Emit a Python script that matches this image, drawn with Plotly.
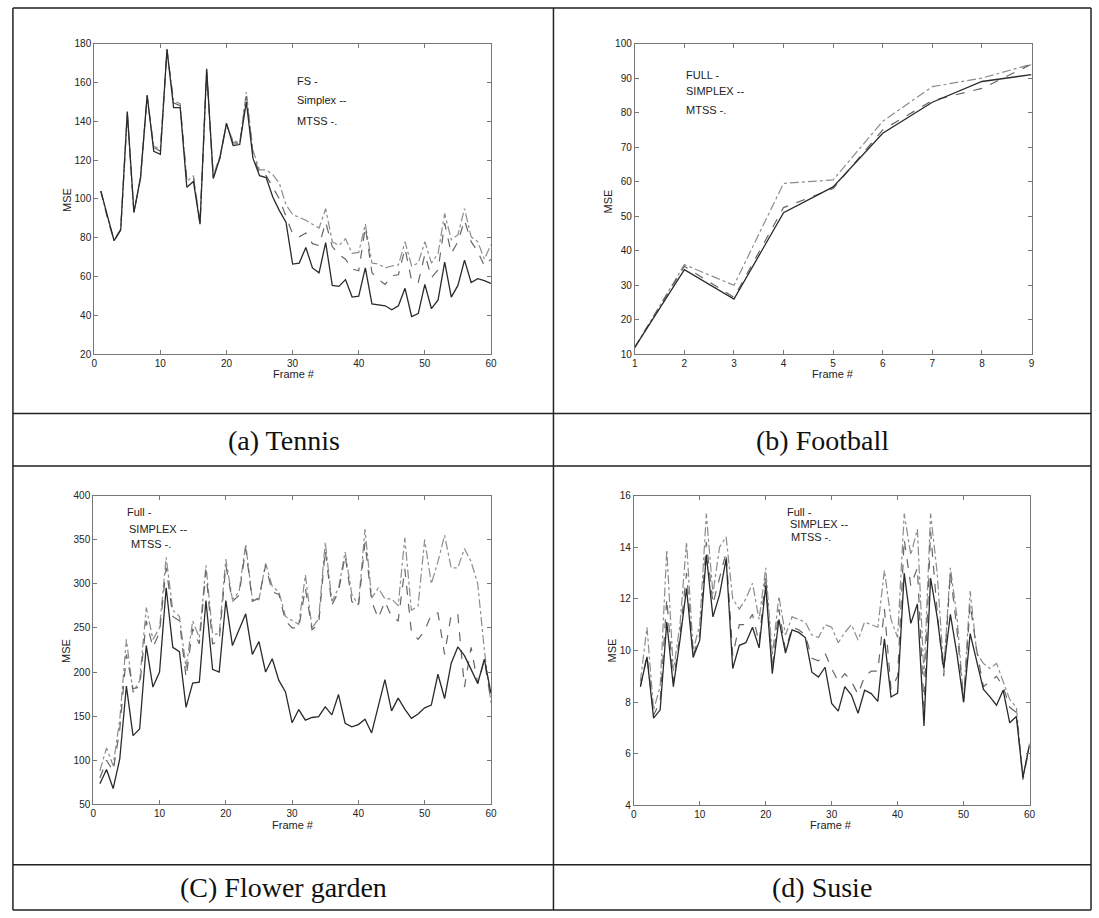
import plotly.graph_objects as go

W, H = 1099, 918

# ---------------- data ----------------
frames60 = list(range(1, 61))
frames9 = list(range(1, 10))

tennis_fs = [104, 91, 78.5, 84, 145, 93, 111, 153.5, 124.5, 123,
             177, 147, 147, 106, 109, 87, 167, 110.5, 121, 139,
             127.5, 128, 150, 121, 112, 111, 101, 94, 88, 66.5,
             67, 75, 64.5, 62, 77.5, 55.5, 55, 58.5, 49.5, 50,
             64.5, 46, 45.5, 45, 43, 45, 54, 39.5, 41, 56,
             43.5, 48, 67.5, 49.5, 55.5, 68.5, 57, 59, 58, 56.5]
tennis_simplex = [104, 90, 78.5, 84, 144, 93, 111, 153, 126.5, 124.5,
                  177, 149.5, 148, 110, 111, 87, 166, 111, 121, 138.5,
                  129, 128.5, 153, 123, 113, 112, 106, 100, 91, 82,
                  80.5, 82.5, 77, 76, 88, 75.5, 71.5, 69, 64, 63,
                  85.5, 62, 58.5, 56, 60.5, 61, 74.5, 58, 57, 71.5,
                  59.5, 63.5, 87.5, 72, 78, 89, 78, 73, 65.5, 69]
tennis_mtss = [104, 90.5, 79, 84.5, 143, 93.5, 110.5, 152, 127, 126,
               176, 150.5, 149, 109, 112, 88, 165, 112, 122, 138,
               130, 129, 155, 125, 115, 115, 112.5, 108, 97, 92,
               90.5, 89, 87, 85, 95, 78, 76, 79.5, 72, 72.5,
               87, 67, 66.5, 64.5, 65.5, 66, 78, 65.5, 67, 78,
               67, 72, 92.5, 79, 81.5, 95, 80.5, 78, 69, 76.5]

football_full = [12, 34.5, 26, 51, 58.5, 74, 83, 89, 91]
football_simplex = [12, 35.5, 26.5, 52.5, 58, 75, 83.5, 87, 94]
football_mtss = [12, 36, 30, 59.5, 60.5, 77.5, 87.5, 90, 94]

flower_full = [73.5, 89.5, 68, 101.5, 184, 128, 135.5, 230, 183, 200,
               295.5, 228, 223, 160, 187.5, 188.5, 281, 203, 200, 281,
               230, 248.5, 266, 220, 234.5, 200, 215, 190.5, 177.5, 142.5,
               157.5, 145.5, 148.5, 149.5, 160.5, 151.5, 174.5, 142, 138, 140.5,
               146.5, 131, 161.5, 191.5, 156, 170.5, 158, 147.5, 152.5, 159.5,
               162.5, 197.5, 170, 210, 228.5, 218.5, 203, 187, 214.5, 176]
flower_simplex = [80, 100, 88, 135, 220, 181, 183, 258, 228, 245,
                  318, 263, 258, 194, 249, 232, 314, 232, 235, 321,
                  280, 287, 340, 280, 284, 321, 291, 288, 258, 250,
                  250, 295, 248, 254, 338, 276, 291, 332, 280, 274,
                  347, 280, 261, 280, 263, 258, 317, 245, 237, 247,
                  265, 267, 220, 265, 265, 183, 228, 187, 213, 168]
flower_mtss = [88, 114, 94, 146, 237, 177, 190, 273, 237, 250,
               330, 270, 263, 205, 258, 239, 321, 243, 243, 328,
               282, 291, 345, 282, 282, 323, 297, 291, 263, 258,
               254, 310, 250, 260, 347, 280, 295, 336, 288, 276,
               362, 284, 295, 283, 283, 275, 352, 270, 275, 350,
               300, 325, 355, 318, 318, 340, 325, 300, 225, 165]

susie_full = [8.6, 9.75, 7.38, 7.7, 11.1, 8.6, 10.4, 12.4, 9.73, 10.4,
              13.7, 11.3, 12.15, 13.55, 9.3, 10.2, 10.3, 10.9, 10.1, 12.5,
              9.1, 11.2, 9.9, 10.8, 10.7, 10.5, 9.16, 8.97, 9.35, 7.95,
              7.65, 8.6, 8.27, 7.57, 8.46, 8.33, 8.03, 10.45, 8.2, 8.35,
              13.0, 11.05, 11.8, 7.08, 12.8, 11.3, 9.3, 11.4, 9.86, 8.0,
              10.65, 9.6, 8.5, 8.2, 7.88, 8.46, 7.2, 7.44, 5.08, 6.35]
susie_simplex = [8.6, 9.8, 7.5, 8.0, 12.0, 8.8, 10.6, 13.0, 9.8, 10.6,
                 14.2, 11.8, 12.8, 13.8, 9.8, 11.0, 11.0, 11.4, 10.3, 12.9,
                 9.3, 11.6, 10.0, 10.9, 10.8, 10.6, 9.7, 9.6, 9.9, 9.3,
                 8.8, 9.1, 8.8, 8.3, 9.0, 9.2, 9.2, 11.6, 8.5, 9.0,
                 14.3, 12.5, 13.2, 7.8, 14.6, 11.5, 9.0, 13.0, 10.8, 8.0,
                 11.8, 10.0, 8.6, 8.8, 9.0, 8.6, 7.8, 7.6, 5.0, 6.3]
susie_mtss = [8.8, 10.9, 7.7, 8.6, 13.9, 9.2, 11.0, 14.2, 10.0, 11.0,
              15.3, 12.2, 14.0, 14.4, 12.0, 11.6, 12.0, 12.6, 11.2, 13.2,
              9.8, 12.1, 10.6, 11.3, 11.2, 11.1, 10.6, 10.5, 11.0, 10.9,
              10.3, 10.7, 11.0, 10.4, 11.1, 11.0, 10.9, 13.1, 11.2, 10.5,
              15.3, 13.7, 14.7, 9.0, 15.3, 13.0, 9.2, 13.2, 11.3, 8.1,
              12.3, 9.9, 9.5, 9.3, 9.5, 8.8, 8.1, 7.8, 5.1, 6.4]

captions = ["(a) Tennis", "(b) Football", "(C) Flower garden", "(d) Susie"]
legend_a = ["FS -", "Simplex --", "MTSS -."]
legend_b = ["FULL -", "SIMPLEX --", "MTSS -."]
legend_c = ["Full -", "SIMPLEX --", "MTSS -."]
legend_d = ["Full -", "SIMPLEX --", "MTSS -."]

# ---------------- layout helpers ----------------
def px_x(p):
    return p / W

def px_y(p):
    return 1 - p / H

# plot areas in pixels (left, right, top, bottom)
areas = {
    1: (92, 492, 38, 353),
    2: (637, 1037, 38, 353),
    3: (91, 492, 496, 809),
    4: (636, 1035, 496, 810),
}

fig = go.Figure()

SOLID = dict(color="#2a2a2a", width=1.3, dash="solid")
DASH = dict(color="#666666", width=1.2, dash="dash")
DOT = dict(color="#8c8c8c", width=1.2, dash="dashdot")

panels = [
    (1, frames60, tennis_fs, tennis_simplex, tennis_mtss),
    (2, frames9, football_full, football_simplex, football_mtss),
    (3, frames60, flower_full, flower_simplex, flower_mtss),
    (4, frames60, susie_full, susie_simplex, susie_mtss),
]
for i, xs, s1, s2, s3 in panels:
    xa = "x" if i == 1 else f"x{i}"
    ya = "y" if i == 1 else f"y{i}"
    for ys, ln in ((s3, DOT), (s2, DASH), (s1, SOLID)):
        fig.add_trace(go.Scatter(x=xs, y=ys, mode="lines", line=ln,
                                 xaxis=xa, yaxis=ya, showlegend=False,
                                 hoverinfo="skip"))

axis_ranges = {
    1: ([0, 60], 10, [20, 180], 20),
    2: ([1, 9], 1, [10, 100], 10),
    3: ([0, 60], 10, [50, 400], 50),
    4: ([0, 60], 10, [4, 16], 2),
}

common = dict(showline=True, mirror="ticks", linecolor="#777", linewidth=1,
              ticks="inside", ticklen=4, tickcolor="#777", showgrid=False,
              zeroline=False,
              tickfont=dict(family="Liberation Sans, Arial", size=10, color="#222"))

layout_axes = {}
for i, (l, r, t, b) in areas.items():
    xr, dx, yr, dy = axis_ranges[i]
    sx = "xaxis" if i == 1 else f"xaxis{i}"
    sy = "yaxis" if i == 1 else f"yaxis{i}"
    layout_axes[sx] = dict(domain=[px_x(l), px_x(r)], range=xr, dtick=dx,
                           tick0=xr[0], anchor="y" if i == 1 else f"y{i}", **common)
    layout_axes[sy] = dict(domain=[px_y(b), px_y(t)], range=yr, dtick=dy,
                           tick0=yr[0], anchor="x" if i == 1 else f"x{i}", **common)

fig.update_layout(width=W, height=H, margin=dict(l=0, r=0, t=0, b=0),
                  paper_bgcolor="white", plot_bgcolor="white",
                  showlegend=False, **layout_axes)

ann = []
lab_font = dict(family="Liberation Sans, Arial", size=11, color="#222")

# axis titles
ytitles = [(65, 196), (610, 198), (64, 653), (614, 653)]
xtitles = [(293, 373), (837, 373), (292, 830), (835, 830)]
for (x, y) in ytitles:
    ann.append(dict(text="MSE", x=px_x(x), y=px_y(y), xref="paper", yref="paper",
                    xanchor="center", yanchor="middle",
                    showarrow=False, textangle=-90, font=lab_font))
for (x, y) in xtitles:
    ann.append(dict(text="Frame #", x=px_x(x), y=px_y(y), xref="paper", yref="paper",
                    xanchor="center", yanchor="middle",
                    showarrow=False, font=lab_font))

# in-plot legend texts (data coordinates)
leg_pos = [
    ("x", "y", legend_a, [(30.3, 160.8), (30.3, 150.8), (30.3, 140.0)]),
    ("x2", "y2", legend_b, [(2.0, 90.9), (2.0, 86.2), (2.0, 80.7)]),
    ("x3", "y3", legend_c, [(4.8, 381), (5.1, 362), (5.4, 345.5)]),
    ("x4", "y4", legend_d, [(23.0, 15.36), (23.4, 14.89), (23.6, 14.41)]),
]
for xr_, yr_, texts, pos in leg_pos:
    for t, (x, y) in zip(texts, pos):
        ann.append(dict(text=t, x=x, y=y, xref=xr_, yref=yr_, showarrow=False,
                        xanchor="left", yanchor="middle", font=lab_font))

# captions
cap_font = dict(family="Liberation Serif, Times New Roman", size=28, color="#111")
cap_pos = [(283, 440), (826, 440), (283, 893), (826, 893)]
for t, (x, y) in zip(captions, cap_pos):
    ann.append(dict(text=t, x=px_x(x), y=px_y(y), xref="paper", yref="paper",
                    xanchor="center", yanchor="middle",
                    showarrow=False, font=cap_font))

fig.update_layout(annotations=ann)

# table borders
shapes = []
L, R, T, B = 10, 1097, 2, 916
VX = 555
hlines = [T, 413, 466, 870, B]
for yy in hlines:
    shapes.append(dict(type="line", xref="paper", yref="paper",
                       x0=px_x(L), x1=px_x(R), y0=px_y(yy), y1=px_y(yy),
                       line=dict(color="#222", width=1.5)))
for xx in (L, VX, R):
    shapes.append(dict(type="line", xref="paper", yref="paper",
                       x0=px_x(xx), x1=px_x(xx), y0=px_y(T), y1=px_y(B),
                       line=dict(color="#222", width=1.5)))
fig.update_layout(shapes=shapes)

fig.write_html(
    "out.html",
    config={"responsive": False, "displayModeBar": False},
    post_script=(
        "document.documentElement.style.margin='0';"
        "document.documentElement.style.overflow='hidden';"
        "document.body.style.margin='0';"
        "document.body.style.overflow='hidden';"
    ),
)
